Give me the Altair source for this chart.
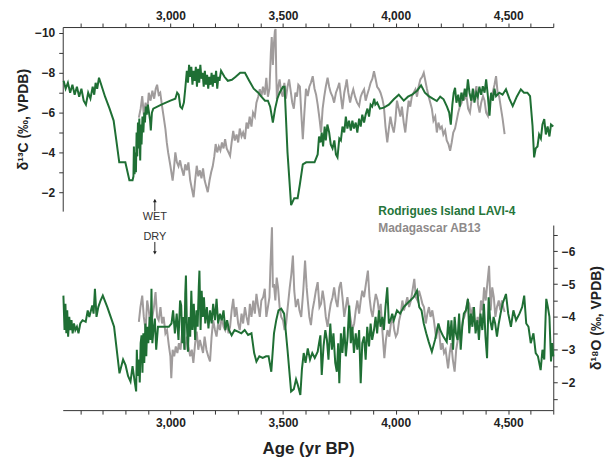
import altair as alt
import pandas as pd

GREEN = "#1f6f34"
GRAY = "#a09c9c"

# ---- delta 13C, Rodrigues Island LAVI-4 ----
c13_lavi_year = [2526, 2535, 2545, 2555, 2565, 2575, 2585, 2595, 2605, 2615, 2625, 2635, 2645, 2655, 2662, 2668, 2675, 2683,
                 2710, 2730, 2748, 2760, 2773, 2800, 2818, 2832, 2836, 2838, 2841, 2844, 2847, 2850, 2853, 2856, 2859, 2862,
                 2866, 2869, 2872, 2876, 2880, 2884, 2887, 2891, 2895, 2900, 2905, 2910, 2913, 2918, 2924, 2960, 3000, 3022,
                 3030, 3037, 3044, 3052, 3060, 3066, 3073, 3078, 3083, 3088, 3093, 3098, 3103, 3108, 3113, 3118, 3123, 3128,
                 3133, 3138, 3143, 3148, 3153, 3158, 3163, 3168, 3173, 3178, 3183, 3188, 3193, 3198, 3203, 3208, 3213, 3218,
                 3225, 3240, 3255, 3273, 3290, 3310, 3331, 3350, 3370, 3390, 3404, 3420, 3433, 3443, 3455, 3465, 3475, 3485,
                 3500, 3507, 3520, 3536, 3550, 3565, 3575, 3588, 3603, 3640, 3654, 3660, 3666, 3672, 3678, 3685, 3690, 3697,
                 3705, 3712, 3720, 3728, 3735, 3742, 3750, 3757, 3764, 3772, 3779, 3786, 3793, 3801, 3808, 3815, 3823, 3830,
                 3838, 3845, 3852, 3860, 3867, 3875, 3882, 3889, 3896, 3905, 3910, 3918, 3930, 3948, 3970, 3992, 4014, 4036,
                 4055, 4073, 4095, 4113, 4130, 4147, 4165, 4183, 4198, 4213, 4228, 4238, 4245, 4252, 4258, 4264, 4270, 4278,
                 4285, 4292, 4300, 4307, 4314, 4321, 4328, 4336, 4343, 4350, 4358, 4365, 4372, 4380, 4387, 4395, 4402, 4409,
                 4417, 4424, 4432, 4439, 4446, 4460, 4475, 4490, 4505, 4520, 4538, 4556, 4570, 4585, 4597, 4608, 4615, 4622,
                 4630, 4637, 4645, 4652, 4660, 4667, 4675, 4683, 4690, 4700]
c13_lavi_val = [-7.6, -7.2, -7.5, -7.0, -7.4, -6.9, -7.3, -6.8, -7.2, -6.6, -6.4, -7.0, -6.7, -7.3, -6.9, -7.5, -7.2, -7.75,
                -6.8, -6.2, -5.6, -4.6, -3.5, -3.5, -2.6, -2.6, -2.8, -4.3, -2.9, -4.0, -3.0, -5.0, -3.8, -5.5, -4.2, -5.7,
                -3.6, -5.4, -4.4, -5.8, -5.0, -6.0, -5.5, -6.3, -5.9, -6.4, -6.0, -5.6, -5.1, -6.0, -6.2, -6.4, -6.6, -6.7,
                -7.0, -6.9, -6.3, -6.2, -6.5, -7.2, -8.1, -7.5, -8.4, -7.8, -8.3, -7.4, -8.1, -7.6, -8.3, -7.3, -8.2, -7.5,
                -8.4, -7.7, -8.0, -7.3, -8.1, -7.4, -7.9, -7.2, -7.8, -7.4, -8.0, -7.3, -7.9, -7.5, -8.1, -7.2, -7.8, -7.6,
                -8.1, -7.8, -7.6, -7.65, -7.8, -8.0, -8.0, -7.6, -7.2, -7.0, -6.8, -6.6, -6.6, -6.3, -5.5, -6.2, -6.7, -7.0,
                -7.3, -7.3, -4.0, -1.35, -1.7, -1.7, -2.4, -3.4, -3.5, -3.5, -3.9, -4.8, -4.5, -5.0, -4.3, -5.3, -4.6, -5.4,
                -5.0, -4.4, -4.2, -4.6, -3.9, -3.75, -4.7, -4.6, -5.3, -5.0, -5.8, -5.2, -5.6, -5.1, -5.6, -5.2, -5.5, -5.0,
                -5.7, -5.3, -5.9, -5.5, -5.9, -6.2, -5.8, -6.4, -6.3, -6.7, -6.4, -6.5, -6.2, -6.25, -6.4, -6.67, -6.9, -6.6,
                -6.8, -6.9, -7.1, -7.37, -7.0, -6.83, -6.7, -6.58, -6.8, -6.67, -6.3, -6.0, -5.4, -6.4, -7.0, -7.25, -6.5, -6.9,
                -6.3, -7.0, -6.6, -7.2, -6.8, -7.67, -7.0, -6.6, -7.2, -6.5, -7.0, -6.8, -7.3, -6.9, -7.33, -7.0, -7.67, -6.9,
                -5.85, -7.0, -6.6, -7.2, -6.83, -7.0, -6.9, -7.17, -6.7, -6.33, -6.8, -7.17, -7.0, -7.0, -6.83, -5.33, -3.75, -4.2,
                -4.3, -4.9, -4.7, -5.4, -5.67, -4.9, -5.3, -4.8, -5.4, -5.3]

# ---- delta 13C, Madagascar AB13 ----
c13_ab13_year = [2860, 2868, 2875, 2882, 2890, 2897, 2904, 2912, 2920, 2928, 2935, 2941, 2948, 2955, 2963, 2970, 2978, 2984,
                 2990, 3000, 3010, 3016, 3022, 3029, 3036, 3043, 3050, 3059, 3066, 3073, 3080, 3088, 3095, 3103, 3110, 3117,
                 3124, 3131, 3138, 3145, 3152, 3159, 3166, 3174, 3181, 3188, 3195, 3201, 3208, 3215, 3222, 3229, 3236, 3243,
                 3250, 3258, 3265, 3272, 3279, 3286, 3294, 3301, 3308, 3316, 3323, 3331, 3338, 3345, 3352, 3360, 3367, 3375,
                 3382, 3390, 3397, 3404, 3411, 3419, 3426, 3433, 3440, 3446, 3450, 3455, 3460, 3464, 3467, 3470, 3473, 3479,
                 3485, 3492, 3499, 3506, 3513, 3520, 3527, 3534, 3541, 3548, 3555, 3562, 3568, 3575, 3581, 3588, 3595, 3602,
                 3610, 3617, 3624, 3632, 3640, 3647, 3654, 3662, 3669, 3676, 3683, 3690, 3698, 3705, 3712, 3720, 3727, 3735,
                 3742, 3750, 3757, 3764, 3772, 3779, 3783, 3790, 3798, 3805, 3812, 3820, 3829, 3838, 3845, 3852, 3860, 3867,
                 3874, 3882, 3889, 3897, 3904, 3911, 3918, 3926, 3933, 3941, 3948, 3955, 3963, 3970, 3977, 3985, 3992, 3999,
                 4006, 4014, 4021, 4028, 4036, 4043, 4050, 4058, 4065, 4072, 4080, 4088, 4095, 4102, 4110, 4118, 4125, 4132,
                 4139, 4147, 4154, 4161, 4168, 4176, 4183, 4190, 4198, 4205, 4212, 4220, 4227, 4235, 4242, 4249, 4256, 4264,
                 4271, 4278, 4285, 4293, 4300, 4307, 4315, 4322, 4330, 4337, 4344, 4352, 4359, 4366, 4373, 4380, 4388, 4395,
                 4402, 4410, 4417, 4424, 4431, 4439, 4446, 4453, 4460, 4468, 4475, 4484]
c13_ab13_val = [-5.75, -6.2, -6.83, -5.9, -6.5, -6.0, -7.0, -6.6, -7.1, -6.7, -7.2, -7.4, -6.9, -7.0, -6.33, -5.8, -5.17, -4.5,
                -4.0, -3.33, -2.58, -3.2, -4.0, -3.5, -3.3, -3.6, -3.2, -2.83, -3.4, -3.1, -3.5, -2.6, -2.2, -1.75, -2.6, -3.33,
                -2.8, -3.1, -2.7, -3.2, -2.6, -2.3, -2.0, -2.6, -3.0, -3.3, -3.8, -4.42, -4.0, -4.3, -4.1, -4.5, -4.2, -4.67,
                -4.2, -4.0, -3.83, -4.5, -5.08, -4.6, -4.9, -4.5, -5.2, -4.8, -5.0, -4.67, -5.5, -5.2, -5.8, -5.3, -6.0, -5.8,
                -6.5, -6.8, -7.17, -6.8, -7.3, -6.9, -7.75, -6.8, -7.2, -9.0, -9.8, -8.4, -9.5, -10.1, -10.2, -8.0, -6.67, -7.3,
                -7.67, -7.0, -6.8, -7.5, -6.7, -7.3, -7.67, -7.1, -6.5, -6.2, -7.0, -6.8, -7.4, -7.3, -6.0, -4.67, -6.0, -7.2,
                -6.83, -7.3, -7.5, -7.83, -7.2, -6.9, -6.4, -5.7, -5.0, -6.2, -6.8, -7.3, -7.75, -7.3, -7.0, -6.8, -6.5, -7.0,
                -7.2, -7.5, -6.8, -6.17, -7.0, -7.4, -7.67, -7.0, -6.5, -6.9, -7.17, -6.8, -6.5, -6.33, -6.8, -7.0, -7.17, -6.6,
                -6.9, -7.2, -7.5, -7.7, -8.08, -7.7, -7.3, -7.17, -7.0, -6.7, -6.3, -5.3, -4.5, -5.2, -5.8, -5.3, -5.0, -5.6,
                -6.6, -6.2, -5.8, -6.3, -5.5, -5.0, -5.8, -6.6, -6.3, -6.8, -7.0, -7.17, -6.8, -7.3, -7.67, -7.8, -8.0, -7.6,
                -7.2, -6.8, -6.5, -6.2, -5.6, -5.8, -5.0, -5.5, -5.2, -5.3, -4.9, -5.1, -4.6, -4.4, -4.08, -4.5, -5.0, -5.2,
                -5.6, -6.0, -6.3, -6.5, -7.0, -6.7, -6.83, -6.2, -6.0, -6.6, -6.8, -7.0, -7.33, -6.4, -6.0, -6.5, -6.83, -6.6,
                -6.0, -5.83, -6.5, -6.9, -7.0, -7.4, -7.83, -7.0, -6.8, -6.2, -5.7, -4.92]

# ---- delta 18O, Rodrigues Island LAVI-4 ----
o18_lavi_year = [2525, 2530, 2534, 2538, 2542, 2546, 2551, 2556, 2561, 2566, 2572, 2578, 2585, 2592, 2600, 2610, 2624, 2633,
                 2640, 2653, 2659, 2665, 2672, 2680, 2690, 2700, 2720, 2735, 2750, 2774, 2790, 2801, 2812, 2823, 2832, 2840,
                 2848, 2851, 2855, 2860, 2864, 2868, 2872, 2876, 2880, 2884, 2889, 2893, 2897, 2902, 2908, 2912, 2916, 2920,
                 2925, 2931, 2937, 2945, 2993, 3005, 3012, 3020, 3028, 3036, 3043, 3048, 3053, 3058, 3062, 3066, 3069, 3073,
                 3078, 3083, 3088, 3093, 3098, 3104, 3110, 3116, 3121, 3126, 3129, 3134, 3139, 3144, 3149, 3155, 3162, 3169,
                 3176, 3183, 3190, 3198, 3205, 3212, 3220, 3228, 3236, 3244, 3252, 3260, 3272, 3285, 3300, 3315, 3330, 3345,
                 3360, 3372, 3382, 3395, 3410, 3425, 3436, 3448, 3460, 3470, 3480, 3492, 3505, 3520, 3536, 3548, 3558, 3565,
                 3577, 3584, 3592, 3600, 3610, 3620, 3630, 3641, 3654, 3660, 3666, 3672, 3680, 3688, 3695, 3702, 3710, 3717,
                 3724, 3732, 3739, 3745, 3750, 3757, 3764, 3772, 3779, 3787, 3794, 3801, 3808, 3815, 3823, 3830, 3838, 3845,
                 3852, 3860, 3867, 3874, 3882, 3889, 3896, 3904, 3911, 3918, 3926, 3933, 3941, 3948, 3955, 3963, 3970, 3977,
                 3985, 3992, 4006, 4020, 4036, 4050, 4065, 4080, 4095, 4105, 4115, 4125, 4136, 4147, 4161, 4175, 4190, 4198,
                 4212, 4227, 4234, 4241, 4248, 4255, 4262, 4268, 4275, 4282, 4289, 4296, 4303, 4312, 4321, 4327, 4334, 4341,
                 4348, 4355, 4363, 4370, 4377, 4385, 4392, 4399, 4406, 4413, 4420, 4428, 4435, 4442, 4450, 4458, 4466, 4475,
                 4490, 4500, 4512, 4523, 4535, 4550, 4562, 4571, 4580, 4590, 4600, 4612, 4622, 4632, 4644, 4652, 4660, 4666,
                 4669, 4676, 4683, 4690, 4695, 4700]
o18_lavi_val = [-4.65, -3.6, -4.4, -3.5, -4.2, -3.4, -4.0, -3.6, -3.9, -3.5, -3.8, -3.6, -3.7, -3.5, -3.8, -3.9, -3.85, -4.2,
                -4.0, -4.35, -4.1, -4.86, -4.0, -4.3, -4.5, -4.65, -4.3, -4.0, -3.7, -2.28, -2.7, -2.53, -2.2, -2.03, -2.5, -2.1,
                -1.73, -3.0, -2.2, -2.7, -2.0, -3.2, -3.44, -2.3, -3.5, -2.6, -3.8, -2.8, -3.7, -3.2, -4.0, -3.3, -4.86, -3.2,
                -3.6, -3.95, -3.0, -3.7, -3.7, -3.8, -4.2, -3.5, -4.1, -3.3, -4.5, -4.35, -3.2, -4.0, -3.0, -4.7, -5.26, -3.8,
                -2.94, -4.0, -3.4, -4.8, -3.6, -4.4, -3.3, -4.2, -3.7, -4.9, -5.41, -3.6, -4.8, -4.0, -4.6, -3.8, -4.3, -3.65,
                -4.2, -3.8, -4.4, -3.9, -4.55, -3.8, -4.1, -3.9, -4.2, -3.6, -3.9, -3.6, -3.44, -3.6, -3.55, -3.5, -3.6, -3.45,
                -3.5, -2.9, -2.64, -2.8, -2.75, -2.8, -2.8, -2.33, -3.5, -3.9, -4.2, -4.25, -4.1, -3.0, -1.73, -1.8, -2.1, -1.95,
                -1.62, -2.4, -2.9, -2.6, -3.04, -2.7, -2.9, -2.75, -2.94, -3.2, -3.44, -2.23, -3.1, -3.6, -3.3, -2.7, -3.8, -3.0,
                -3.5, -2.6, -2.33, -3.2, -1.98, -3.5, -2.9, -3.7, -2.8, -3.4, -4.35, -3.2, -3.7, -2.9, -3.5, -3.0, -3.6, -1.98,
                -3.2, -3.4, -2.7, -3.7, -3.1, -3.8, -3.3, -3.6, -4.0, -3.5, -4.2, -3.7, -4.0, -3.6, -4.3, -4.9, -3.8, -3.9,
                -4.1, -3.9, -4.2, -4.1, -4.3, -4.4, -4.5, -4.6, -4.8, -4.3, -4.2, -3.8, -3.5, -3.24, -2.94, -3.3, -3.8, -3.6,
                -3.4, -3.24, -3.9, -3.3, -3.9, -3.0, -4.0, -3.5, -3.3, -4.1, -3.0, -3.7, -4.1, -4.2, -4.55, -3.5, -4.1, -3.7,
                -4.3, -3.5, -3.9, -3.3, -4.1, -3.6, -4.4, -3.4, -2.74, -4.6, -3.9, -3.6, -4.0, -3.8, -3.4, -3.8, -4.1, -4.4,
                -4.7, -4.1, -3.7, -4.2, -3.9, -4.1, -4.3, -4.65, -3.8, -3.7, -3.2, -3.5, -2.9, -2.8, -2.38, -3.0, -2.7, -4.0,
                -4.55, -4.3, -4.0, -2.64, -3.2, -2.8]

# ---- delta 18O, Madagascar AB13 ----
o18_ab13_year = [2860, 2867, 2875, 2882, 2890, 2897, 2904, 2912, 2920, 2927, 2934, 2941, 2948, 2956, 2963, 2970, 2978, 2985,
                 2993, 3000, 3004, 3010, 3017, 3024, 3031, 3038, 3045, 3052, 3059, 3066, 3073, 3080, 3088, 3095, 3102, 3110,
                 3117, 3124, 3131, 3138, 3145, 3152, 3160, 3168, 3176, 3183, 3190, 3198, 3205, 3212, 3220, 3228, 3236, 3243,
                 3250, 3258, 3265, 3272, 3279, 3286, 3293, 3301, 3308, 3316, 3323, 3331, 3338, 3346, 3353, 3360, 3368, 3375,
                 3382, 3390, 3397, 3404, 3412, 3419, 3426, 3433, 3440, 3444, 3448, 3451, 3455, 3460, 3466, 3472, 3478, 3485,
                 3492, 3500, 3507, 3514, 3521, 3530, 3537, 3544, 3550, 3557, 3566, 3573, 3581, 3590, 3598, 3605, 3610, 3617,
                 3624, 3631, 3639, 3646, 3654, 3662, 3669, 3676, 3683, 3690, 3698, 3705, 3712, 3720, 3727, 3735, 3742, 3750,
                 3757, 3764, 3772, 3779, 3786, 3794, 3801, 3808, 3816, 3823, 3830, 3838, 3845, 3852, 3860, 3868, 3877, 3884,
                 3891, 3898, 3905, 3912, 3920, 3927, 3934, 3941, 3950, 3957, 3964, 3972, 3979, 3987, 3994, 4001, 4008, 4016,
                 4023, 4030, 4037, 4045, 4052, 4060, 4068, 4075, 4083, 4090, 4097, 4104, 4112, 4119, 4126, 4134, 4141, 4148,
                 4155, 4163, 4170, 4180, 4187, 4194, 4201, 4208, 4215, 4222, 4233, 4240, 4247, 4254, 4262, 4269, 4276, 4283,
                 4291, 4298, 4305, 4313, 4320, 4327, 4335, 4342, 4350, 4357, 4364, 4372, 4379, 4386, 4393, 4400, 4407, 4415,
                 4422, 4429, 4436, 4443, 4450, 4458, 4465, 4472, 4478, 4484]
o18_ab13_val = [-3.85, -4.3, -4.65, -4.0, -3.6, -4.5, -4.2, -3.7, -4.0, -4.3, -4.76, -4.0, -3.9, -4.3, -3.8, -4.0, -3.5, -3.6,
                -3.14, -2.8, -2.13, -3.0, -2.8, -3.1, -2.9, -3.2, -3.0, -3.5, -3.3, -3.0, -3.4, -3.1, -2.8, -3.0, -2.6, -3.2,
                -3.55, -3.0, -3.3, -3.1, -2.9, -3.4, -3.0, -2.8, -2.64, -3.4, -3.9, -3.6, -3.4, -3.8, -3.6, -4.0, -3.7, -3.6,
                -3.9, -3.5, -3.7, -4.2, -4.55, -4.0, -4.3, -3.8, -3.6, -4.1, -3.8, -4.3, -4.0, -3.75, -4.4, -4.0, -4.5, -4.1,
                -4.7, -4.3, -4.0, -4.5, -4.6, -4.86, -4.0, -4.3, -4.6, -5.5, -6.2, -6.73, -4.9, -5.0, -4.5, -5.2, -4.9, -4.3,
                -4.0, -3.9, -3.6, -3.8, -4.3, -4.9, -5.3, -5.87, -4.8, -4.3, -4.55, -4.2, -4.0, -4.8, -5.72, -4.9, -4.5, -4.0,
                -3.75, -4.2, -4.5, -4.8, -5.06, -4.3, -4.4, -4.8, -4.5, -4.0, -3.7, -4.1, -4.4, -4.6, -4.9, -4.5, -4.3, -4.9,
                -5.06, -4.6, -4.0, -4.3, -4.6, -4.2, -3.9, -3.6, -3.8, -4.2, -4.5, -4.1, -4.5, -4.8, -4.6, -5.0, -5.41, -4.6,
                -4.2, -4.0, -4.4, -4.7, -4.5, -4.1, -4.4, -3.6, -2.74, -3.3, -3.6, -3.4, -3.8, -4.0, -3.6, -3.4, -3.5, -3.9,
                -4.1, -4.5, -4.2, -4.4, -4.6, -4.3, -4.5, -4.8, -5.16, -4.6, -4.5, -4.8, -4.6, -4.4, -4.3, -3.8, -4.1, -4.3,
                -4.0, -4.2, -3.9, -3.34, -3.7, -3.5, -3.0, -3.2, -2.9, -3.0, -2.43, -2.9, -3.2, -2.7, -2.33, -3.0, -3.3, -3.6,
                -3.5, -3.9, -4.0, -4.2, -4.5, -4.4, -4.0, -4.3, -3.9, -3.6, -4.0, -3.8, -4.5, -4.2, -4.9, -4.5, -5.0, -5.56,
                -4.2, -4.9, -4.6, -4.0, -4.3, -4.5, -4.2, -4.5, -4.3, -4.15]

x_ticks = list(range(2600, 4701, 100))
c13_ticks = list(range(-10, -1))
o18_ticks = [-6.5, -6.0, -5.5, -5.0, -4.5, -4.0, -3.5, -3.0, -2.5, -2.0, -1.5]

FONT = "Liberation Sans"

def frame(years, vals):
    return pd.DataFrame({"age": years, "v": vals})

x_scale = alt.Scale(domain=[2522, 4700], nice=False, zero=False)
c13_scale = alt.Scale(domain=[-10.3, -1.05], nice=False, zero=False, reverse=True)
o18_scale = alt.Scale(domain=[-6.8, -1.16], nice=False, zero=False, reverse=True)

common_axis = dict(grid=False, tickSize=4, labelFontSize=12, labelFontWeight="bold", labelColor="#222",
                   domainColor="#333", tickColor="#333", labelFont=FONT, titleFont=FONT, titleColor="#222",
                   labelOverlap=False)

top_x = alt.X("age:Q", scale=x_scale, axis=alt.Axis(
    orient="top", values=x_ticks, title=None, labelPadding=1,
    labelExpr="datum.value % 500 == 0 ? format(datum.value, ',') : ''", **common_axis))
top_y = alt.Y("v:Q", scale=c13_scale, axis=alt.Axis(
    orient="left", values=c13_ticks, title="δ¹³C (‰, VPDB)", titleFontSize=14, titleFontWeight="bold",
    titlePadding=4, labelPadding=4, labelExpr="datum.value % 2 == 0 ? format(datum.value, 'd') : ''", **common_axis))

bot_x = alt.X("age:Q", scale=x_scale, axis=alt.Axis(
    orient="bottom", values=x_ticks, title="Age (yr BP)", titleFontSize=17, titleFontWeight="bold",
    titlePadding=13, labelPadding=3,
    labelExpr="datum.value % 500 == 0 ? format(datum.value, ',') : ''", **common_axis))
bot_y = alt.Y("v:Q", scale=o18_scale, axis=alt.Axis(
    orient="right", values=o18_ticks, title="δ¹⁸O (‰, VPDB)", titleFontSize=14, titleFontWeight="bold",
    titleAngle=270, titleBaseline="top", titlePadding=15, labelPadding=4,
    labelExpr="datum.value % 1 == 0 ? format(datum.value, 'd') : ''", **common_axis))

top_gray = alt.Chart(frame(c13_ab13_year, c13_ab13_val)).mark_line(color=GRAY, strokeWidth=2).encode(x=top_x, y=top_y)
top_green = alt.Chart(frame(c13_lavi_year, c13_lavi_val)).mark_line(color=GREEN, strokeWidth=2).encode(x=top_x, y=top_y)

ann_text = pd.DataFrame({"age": [2931, 2931], "v": [-0.75, 0.25], "t": ["WET", "DRY"]})
annot = alt.Chart(ann_text).mark_text(font=FONT, fontSize=11, color="#333", baseline="middle", align="center").encode(
    x=top_x, y=top_y, text="t:N")

arrow_shafts = pd.DataFrame({"age": [2931, 2931], "v": [-1.62, 0.5], "v2": [-1.05, 1.05]})
shafts = alt.Chart(arrow_shafts).mark_rule(color="#222", strokeWidth=1).encode(
    x=top_x, y=top_y, y2="v2:Q")
arrow_heads = pd.DataFrame({"age": [2931, 2931], "v": [-1.58, 1.05], "s": ["triangle-up", "triangle-down"]})
heads = alt.Chart(arrow_heads).mark_point(filled=True, color="#222", size=14, opacity=1).encode(
    x=top_x, y=top_y, shape=alt.Shape("s:N", scale=None))

leg = pd.DataFrame({
    "age": [3923, 3923],
    "v": [-1.05, -0.2],
    "t": ["Rodrigues Island LAVI-4", "Madagascar AB13"],
    "c": ["#25753a", "#8e8a8a"],
})
legend_text = alt.Chart(leg).mark_text(font=FONT, fontSize=12, fontWeight="bold", align="left", baseline="middle").encode(
    x=top_x, y=top_y, text="t:N", color=alt.Color("c:N", scale=None))

top = alt.layer(top_gray, top_green, annot, shafts, heads, legend_text).properties(width=493, height=185)

bot_gray = alt.Chart(frame(o18_ab13_year, o18_ab13_val)).mark_line(color=GRAY, strokeWidth=2).encode(x=bot_x, y=bot_y)
bot_green = alt.Chart(frame(o18_lavi_year, o18_lavi_val)).mark_line(color=GREEN, strokeWidth=2).encode(x=bot_x, y=bot_y)
bottom = alt.layer(bot_gray, bot_green).properties(width=493, height=186)

chart = alt.vconcat(top, bottom, spacing=14, bounds="flush").properties(
    padding={"left": 8, "top": 0, "right": 2, "bottom": 2}
).configure(font=FONT).configure_view(stroke=None)

chart.save("out.html", embed_options={"renderer": "svg", "actions": False})
